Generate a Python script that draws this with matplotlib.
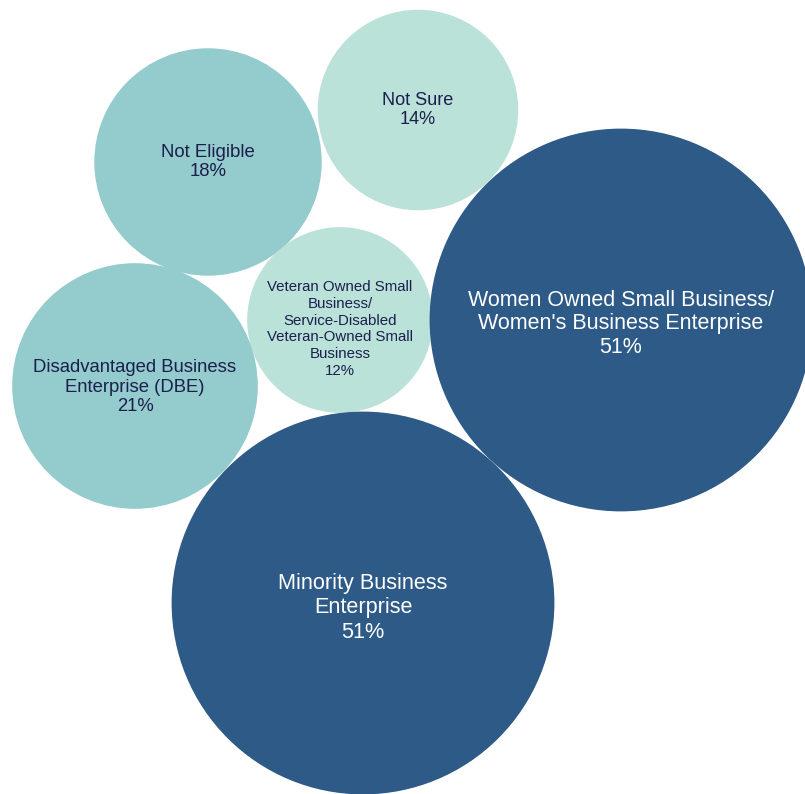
import matplotlib.pyplot as plt
import numpy as np
from matplotlib.patches import Circle

plt.rcParams['font.family'] = ['Liberation Sans', 'DejaVu Sans']

# survey share for each certification
labels = [
    "Not Sure",
    "Not Eligible",
    "Veteran Owned Small\nBusiness/\nService-Disabled\nVeteran-Owned Small\nBusiness",
    "Disadvantaged Business\nEnterprise (DBE)",
    "Women Owned Small Business/\nWomen's Business Enterprise",
    "Minority Business\nEnterprise",
]
values = [14, 18, 12, 21, 51, 51]

# bubble layout (pixel space, y down)
centers = [(418, 110), (208, 162), (340, 320), (135, 386), (621, 320), (363, 603)]
text_dy = [0, 0, 9, 1, 4, 5]
colors = ["#bae2d9", "#94cbcd", "#bae2d9", "#94cbcd", "#2d5a86", "#2d5a86"]
text_colors = ["#1b1f4d"] * 4 + ["white", "white"]
font_sizes = [13.1, 13.4, 10.8, 13.3, 15.5, 15.6]
spacing = [1.2, 1.2, 1.25, 1.22, 1.17, 1.2]

scale = 26.8  # radius per sqrt(percent)

fig = plt.figure(figsize=(8.05, 7.94), dpi=100)
ax = fig.add_axes([0, 0, 1, 1])
ax.set_xlim(0, 805)
ax.set_ylim(794, 0)
ax.set_aspect("equal")
ax.axis("off")

for lab, val, (cx, cy), dy, col, tcol, fs, ls in zip(labels, values, centers, text_dy,
                                                       colors, text_colors, font_sizes, spacing):
    r = scale * np.sqrt(val)
    ax.add_patch(Circle((cx, cy), r, facecolor=col, edgecolor="none"))
    ax.text(cx, cy + dy, f"{lab}\n{val}%", ha="center", va="center",
            color=tcol, fontsize=fs, linespacing=ls)

fig.savefig("out.png", dpi=100)
